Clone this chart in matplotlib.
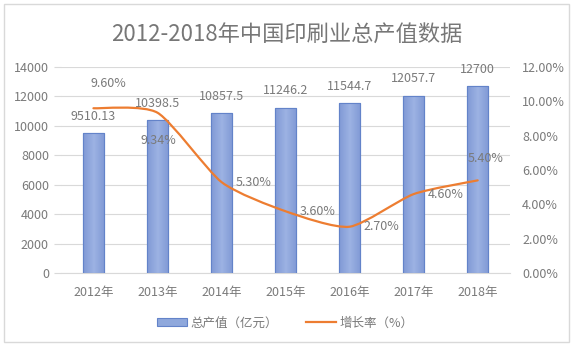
#!/usr/bin/env python3

import numpy as np
import matplotlib
matplotlib.use('Agg')
import matplotlib.pyplot as plt
from matplotlib.path import Path
from matplotlib.patches import PathPatch, Rectangle
from matplotlib.lines import Line2D

plt.rcParams['font.family'] = ['Noto Sans CJK SC', 'DejaVu Sans']

# Data
years = ['2012年', '2013年', '2014年', '2015年', '2016年', '2017年', '2018年']
output_value = [9510.13, 10398.5, 10857.5, 11246.2, 11544.7, 12057.7, 12700]
value_labels = ['9510.13', '10398.5', '10857.5', '11246.2', '11544.7', '12057.7', '12700']
growth_rate = [9.60, 9.34, 5.30, 3.60, 2.70, 4.60, 5.40]
left_ticks = [0, 2000, 4000, 6000, 8000, 10000, 12000, 14000]
right_ticks = [0, 2, 4, 6, 8, 10, 12]

TEXT = '#7a7a7a'
GRID = '#d9d9d9'
ORANGE = '#ED7D31'


def smooth_path(xs, ys, k=9.0):
    """Bezier path through the points, like Excel's smoothed line"""
    pts = np.column_stack([xs, ys])
    verts = [pts[0]]
    codes = [Path.MOVETO]
    n = len(pts)
    for i in range(n - 1):
        p0 = pts[i - 1] if i > 0 else pts[i]
        p1 = pts[i]
        p2 = pts[i + 1]
        p3 = pts[i + 2] if i + 2 < n else pts[i + 1]
        c1 = p1 + (p2 - p0) / k
        c2 = p2 - (p3 - p1) / k
        verts += [c1, c2, p2]
        codes += [Path.CURVE4] * 3
    return Path(verts, codes)


fig = plt.figure(figsize=(5.74, 3.51), dpi=100)
ax1 = fig.add_axes([0.107, 0.222, 0.781, 0.587])

x = np.arange(len(years))
width = 0.33

# Bars with a soft horizontal gradient
bars = ax1.bar(x, output_value, width, color='#8FA8DC', edgecolor='#6383C9',
               linewidth=0.8, zorder=2)
grad = np.abs(np.linspace(-1, 1, 64))[None, :]
cmap = matplotlib.colors.LinearSegmentedColormap.from_list('bar', ['#9CB2E3', '#8099D5'])
for b in bars:
    im = ax1.imshow(grad, cmap=cmap, aspect='auto', zorder=2.5,
                    extent=[b.get_x(), b.get_x() + b.get_width(), 0, b.get_height()])
    im.set_clip_path(b)
    ax1.add_patch(Rectangle((b.get_x(), 0), b.get_width(), b.get_height(),
                            fill=False, edgecolor='#6383C9', linewidth=0.8, zorder=3))

for i, v in enumerate(output_value):
    ax1.annotate(value_labels[i], (x[i], v), xytext=(0, 12), textcoords='offset points',
                 ha='center', va='center', fontsize=9, color=TEXT)

ax1.set_xlim(-0.5, len(years) - 0.5)
ax1.set_ylim(0, 14000)
ax1.set_yticks(left_ticks)
ax1.set_yticklabels([str(t) for t in left_ticks])
ax1.set_xticks(x)
ax1.set_xticklabels(years)
ax1.grid(True, axis='y', color=GRID, linewidth=0.8)
ax1.set_axisbelow(True)
for s in ['top', 'left', 'right']:
    ax1.spines[s].set_visible(False)
ax1.spines['bottom'].set_color(GRID)
ax1.tick_params(axis='y', length=5, color=GRID, labelcolor=TEXT, labelsize=9, pad=4)
ax1.tick_params(axis='x', length=0, labelcolor=TEXT, labelsize=9, pad=9)

# Growth rate on the secondary axis
ax2 = ax1.twinx()
ax2.set_ylim(0, 12)
ax2.set_yticks(right_ticks)
ax2.set_yticklabels([f'{t:.2f}%' for t in right_ticks])
for s in ['top', 'left', 'right', 'bottom']:
    ax2.spines[s].set_visible(False)
ax2.tick_params(axis='y', length=0, labelcolor=TEXT, labelsize=9, pad=9)

ax2.add_patch(PathPatch(smooth_path(x, growth_rate), fill=False, edgecolor=ORANGE,
                        linewidth=1.6, capstyle='round', zorder=5))

# label offsets in points (dx, dy, ha)
label_pos = [(10.5, -18, 'center'), (1, 20, 'center'), (10, 0, 'left'), (10, 0, 'left'),
             (10, 0, 'left'), (10, 0, 'left'), (6, -16, 'center')]
for i, r in enumerate(growth_rate):
    dx, dy, ha = label_pos[i]
    ax2.annotate(f'{r:.2f}%', (x[i], r), xytext=(dx, -dy), textcoords='offset points',
                 ha=ha, va='center', fontsize=9, color=TEXT, zorder=6)

fig.text(0.5, 0.9, '2012-2018年中国印刷业总产值数据', ha='center', va='center',
         fontsize=16, color='#777777', fontweight='light')

handles = [Rectangle((0, 0), 1, 1, facecolor='#8FA8DC', edgecolor='#6383C9', linewidth=0.8),
           Line2D([0], [0], color=ORANGE, linewidth=1.6)]
fig.legend(handles, ['总产值（亿元）', '增长率（%）'], loc='center', bbox_to_anchor=(0.497, 0.08),
           ncol=2, frameon=False, fontsize=9, labelcolor=TEXT, handlelength=2.4,
           handleheight=0.5, handletextpad=0.3, columnspacing=2.2)

fig.add_artist(Rectangle((3.5 / 574, 1 - 342 / 351), 565.5 / 574, 338 / 351,
                         transform=fig.transFigure, fill=False, edgecolor=GRID, linewidth=1))

fig.savefig('out.png', dpi=100)
